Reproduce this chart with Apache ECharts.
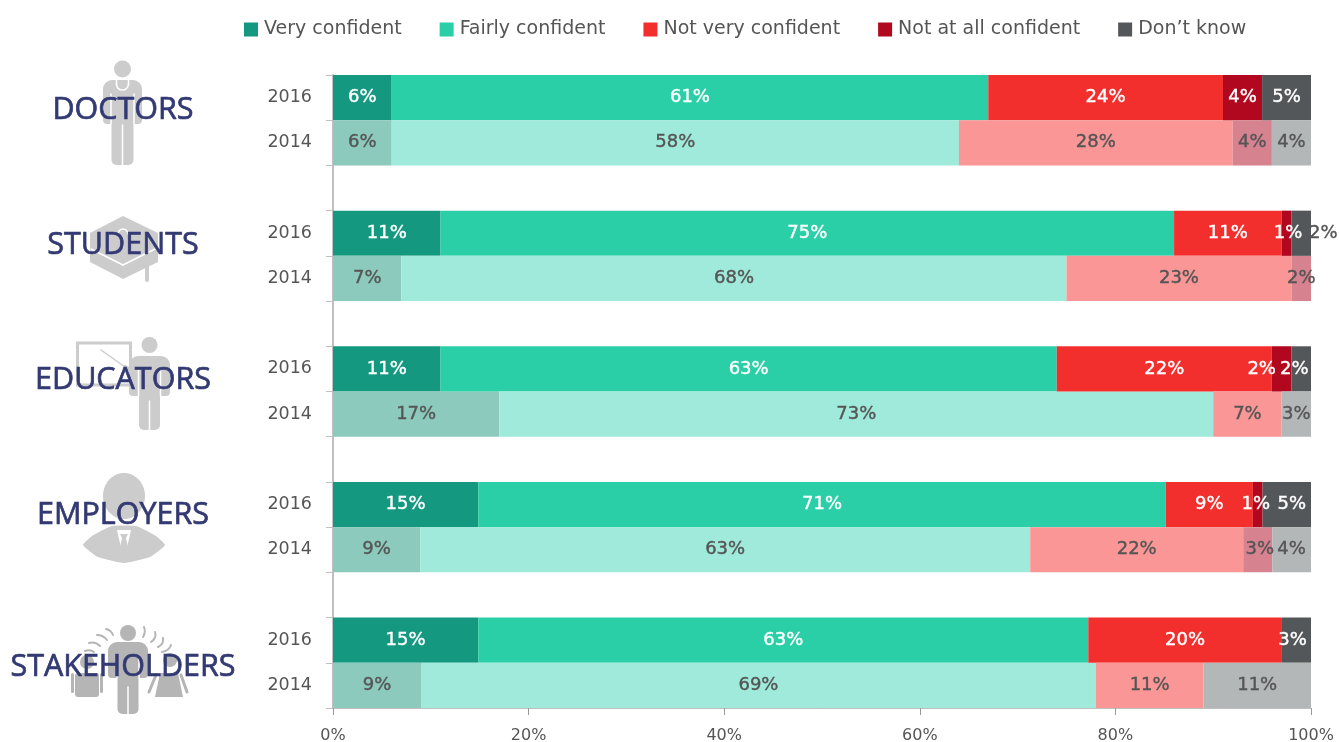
<!DOCTYPE html>
<html><head><meta charset="utf-8">
<style>html,body{margin:0;padding:0;background:#fff}#c{width:1339px;height:742px}</style>
<script src="https://cdn.jsdelivr.net/npm/echarts@6/dist/echarts.min.js"></script>
</head><body><div id="c"></div>
<script>
const groups = ['DOCTORS','STUDENTS','EDUCATORS','EMPLOYERS','STAKEHOLDERS'];
const years = ['2016','2014'];
const seriesNames = ['Very confident','Fairly confident','Not very confident','Not at all confident','Don\u2019t know'];
// row order: doctors 2016, doctors 2014, students 2016, students 2014, ...
const veryConfident = [6,6,11,7,11,17,15,9,15,9];
const fairlyConfident = [61,58,75,68,63,73,71,63,63,69];
const notVeryConfident = [24,28,11,23,22,7,9,22,20,11];
const notAtAllConfident = [4,4,1,2,2,0,1,3,0,0];
const dontKnow = [5,4,2,0,2,3,5,4,3,11];
const tickPercent = [0,20,40,60,80,100];

const colors = ['#149880','#2acfa8','#f32f2e','#b1081f','#54575a'];
const lightColors = ['#8ccabd','#9feadb','#fa9696','#d6828f','#b4b7b7'];
const fontUI = '"DejaVu Sans", sans-serif';
const values = [veryConfident,fairlyConfident,notVeryConfident,notAtAllConfident,dontKnow];

// slots: two year rows per group with a blank row between groups
const slots = [], slotRow = [];
groups.forEach((g,i)=>{
  years.forEach((y,j)=>{ slots.push(y); slotRow.push(i*2+j); });
  if(i<groups.length-1){ slots.push(' '); slotRow.push(-1); }
});
const rowTotal = r => values.reduce((s,a)=>s+a[r],0);

// label shifts in px for crowded segments: [series, row, dx]
const labelShift = [[3,2,1.5],[4,2,22],[3,4,-20],[4,4,-7],[3,6,-2],[4,6,5],[3,7,2],[4,8,-4]];
const shiftOf = (s,r)=>{const f=labelShift.find(a=>a[0]===s&&a[1]===r);return f?f[2]:0;};

const series = seriesNames.map((name,s)=>({
  name, type:'bar', stack:'share', barWidth:'100%',
  itemStyle:{color:colors[s]},
  data: slotRow.map(r=>{
    if(r<0||!values[s][r]) return null;
    const recent = r%2===0;
    const ink = recent&&!(s===4&&r===2)?'#fff':'#555';
    return {
      value: values[s][r]/rowTotal(r)*100,
      itemStyle:{color: recent?colors[s]:lightColors[s]},
      label:{show:true,position:'inside',offset:[shiftOf(s,r),0],
        formatter:values[s][r]+'%',
        color: ink, fontFamily:fontUI,fontSize:18,
        textBorderColor: ink,textBorderWidth:0.4}
    };
  })
}));

// Icons
const G='#cccccc', D='#b5b5b5', W='#ffffff';
const circle=(cx,cy,r,fill)=>({type:'circle',shape:{cx,cy,r},style:{fill},z:1,silent:true});
const rect=(x,y,w,h,r,fill)=>({type:'rect',shape:{x,y,width:w,height:h,r},style:{fill},z:1,silent:true});
const line=(x1,y1,x2,y2,c,w)=>({type:'line',shape:{x1,y1,x2,y2},style:{stroke:c,lineWidth:w,lineCap:'round'},z:1,silent:true});
const poly=(points,fill,smooth)=>({type:'polygon',shape:{points,smooth:smooth||0},style:{fill},z:1,silent:true});
const arc=(cx,cy,r,a,b,c,w)=>({type:'arc',shape:{cx,cy,r,startAngle:a,endAngle:b},style:{stroke:c,fill:'none',lineWidth:w,lineCap:'round'},z:1,silent:true});
const wave=(x1,y1,cpx1,cpy1,x2,y2)=>({type:'bezierCurve',shape:{x1,y1,x2,y2,cpx1,cpy1},style:{stroke:D,fill:'none',lineWidth:2,lineCap:'round'},z:1,silent:true});
function person(cx,hy,hr,top,armH,legEnd,halfW,halfLeg,c){
  return [
    circle(cx,hy,hr,c),
    rect(cx-halfW,top,halfW*2,armH,[9,9,4,4],c),
    rect(cx-halfLeg,top+8,halfLeg*2,legEnd-top-8,[0,0,5,5],c),
    line(cx-halfLeg-0.5,top+14,cx-halfLeg-0.5,top+armH,W,1.5),
    line(cx+halfLeg+0.5,top+14,cx+halfLeg+0.5,top+armH,W,1.5),
    line(cx,top+45,cx,legEnd,W,1.5)
  ];
}
const icons = [
  ...person(122.5,69,8.5,80,44,165,19.5,11,G),
  arc(122.5,84,6,0.1,Math.PI-0.1,W,1.5),
  line(116.5,80,116.5,85,W,1.5), line(128.5,80,128.5,85,W,1.5),
  // student cap
  poly([[123,216],[158,233],[158,262],[123,279],[90,262],[90,233]],G),
  line(91,249,123,265,W,1.5), line(123,265,155,249,W,1.5),
  arc(123,234,5,Math.PI,Math.PI*2,W,1.5),
  rect(145,250,4,32,2,G),
  // educator
  {type:'rect',shape:{x:77.5,y:343,width:53,height:42},style:{fill:'none',stroke:G,lineWidth:3},z:1,silent:true},
  line(101,350,125,367,G,1.5),
  ...person(149.5,345,8,356,40,430,20.5,10.5,G),
  line(125,367,134,372,G,4),
  // employer
  {type:'ellipse',shape:{cx:124,cy:496,rx:21,ry:23},style:{fill:G},z:1,silent:true},
  poly([[83,545],[92,536],[112,526],[136,526],[156,536],[165,545],[150,557],[124,563],[98,557]],G,0.15),
  poly([[117,530],[131,530],[126,552],[122,552]],W),
  poly([[120,534],[128,534],[126,538],[129,552],[119,552],[122,538]],G),
  // stakeholder
  ...person(128,633,8,642,36,714,20,10.5,D),
  circle(87,662,7,D), rect(75,673,24,24,3,D), rect(71,673,3,20,1.5,D), rect(100,673,3,20,1.5,D),
  circle(170,660,7,D), poly([[160,673],[178,673],[183,697],[155,697]],D),
  line(156,675,149,692,D,3), line(181,675,187,692,D,3),
  wave(106,629,111,630,113,635), wave(97,635,103,635,107,640), wave(89,643,95,641,100,646), wave(85,651,90,649,94,652),
  wave(143,637,146,632,144,627), wave(151,642,157,638,155,632), wave(158,647,164,644,163,638), wave(162,652,169,651,171,645)
];
const titleY = [110,245,380,515,667];
const titles = groups.map((g,i)=>({
  type:'text',x:123,y:titleY[i],z:5,silent:true,
  style:{text:g,fill:'#333a73',stroke:'#333a73',lineWidth:0.7,font:'30.5px "Open Sans", sans-serif',align:'center',verticalAlign:'middle'}
}));

const chart = echarts.init(document.getElementById('c'),null,{renderer:'canvas'});
chart.setOption({
  animation:false,
  legend:{left:244,top:20,padding:0,icon:'rect',itemWidth:14,itemHeight:14,itemGap:38,
    data:seriesNames,selectedMode:false,
    textStyle:{color:'#555',fontFamily:fontUI,fontSize:19,padding:[0,0,4,1]}},
  grid:{left:333,right:28,top:75,height:633,containLabel:false,outerBoundsMode:'none'},
  xAxis:{type:'value',min:tickPercent[0],max:tickPercent[tickPercent.length-1],interval:20,
    axisLine:{show:true,lineStyle:{color:'#c0c0c0',width:1}},
    axisTick:{show:true,length:7,lineStyle:{color:'#999'}},
    splitLine:{show:false},
    axisLabel:{formatter:'{value}%',color:'#555',fontFamily:fontUI,fontSize:16,margin:20}},
  yAxis:{type:'category',inverse:true,data:slots,
    axisLine:{show:true,lineStyle:{color:'#c0c0c0',width:2}},
    axisTick:{show:true,length:7,interval:0,lineStyle:{color:'#c0c0c0'}},
    axisLabel:{interval:0,color:'#555',fontFamily:fontUI,fontSize:17.5,margin:21,padding:[0,0,3,0]}},
  series,
  graphic:[...icons,...titles]
});
</script></body></html>
